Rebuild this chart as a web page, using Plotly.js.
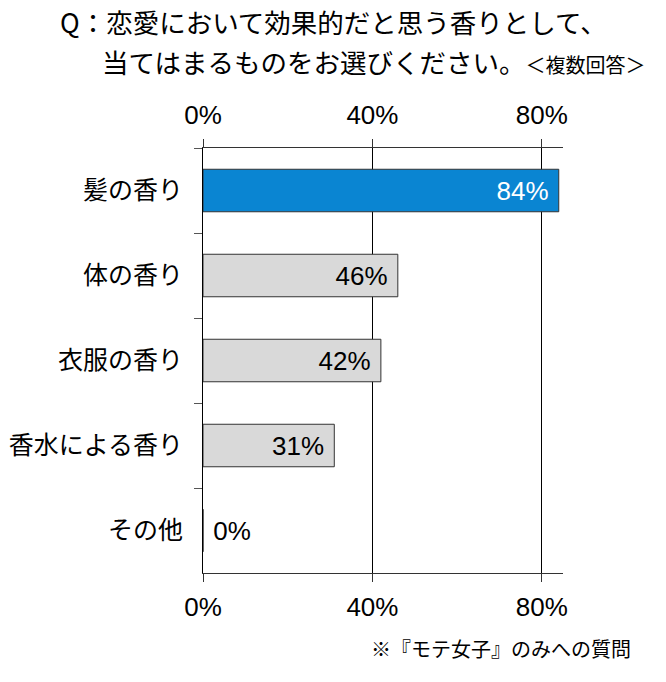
<!DOCTYPE html>
<html>
<head>
<meta charset="utf-8">
<script src="https://cdn.plot.ly/plotly-3.0.1.min.js"></script>
<style>
  body { margin: 0; background: #fff; }
  #chart { width: 666px; height: 682px; }
</style>
</head>
<body>
<div id="chart"></div>
<script>
const categories = ["髪の香り", "体の香り", "衣服の香り", "香水による香り", "その他"];
const values = [84, 46, 42, 31, 0];
const labels = ["84%", "46%", "42%", "31%", "0%"];
const tickVals = [0, 40, 80];
const tickText = ["0%", "40%", "80%"];

const jp = "Noto Sans CJK JP, sans-serif";
const num = "Liberation Sans, Arial, sans-serif";

const barColors = values.map((v, i) => (i === 0 ? "#0A85D2" : "#D9D9D9"));
const textColors = values.map((v, i) => (i === 0 ? "#ffffff" : "#000000"));
const textPos = values.map(v => (v > 5 ? "inside" : "outside"));
// a bit of padding: after the label inside the bar, before it outside
const textTpl = values.map(v => (v > 5 ? "%{text}\u00a0" : "\u00a0%{text}"));

const traces = [
  {
    type: "bar",
    orientation: "h",
    y: categories,
    x: values,
    text: labels,
    texttemplate: textTpl,
    textposition: textPos,
    insidetextanchor: "end",
    constraintext: "none",
    cliponaxis: false,
    textfont: { family: num, size: 26, color: textColors },
    marker: { color: barColors, line: { color: "#333333", width: 1 } },
    width: 0.5,
    hoverinfo: "skip",
  },
  // empty trace so the top axis gets drawn
  { type: "scatter", x: [], y: [], xaxis: "x2", hoverinfo: "skip", showlegend: false },
];

const axisCommon = {
  range: [0, 85],
  tickvals: tickVals,
  ticktext: tickText,
  ticks: "outside",
  ticklen: 8,
  tickcolor: "#333333",
  showline: true,
  linecolor: "#333333",
  linewidth: 1,
  tickfont: { family: num, size: 26, color: "#000" },
  zeroline: false,
  fixedrange: true,
};

const layout = {
  width: 666,
  height: 682,
  margin: { l: 203, r: 103, t: 148, b: 109 },
  paper_bgcolor: "#ffffff",
  plot_bgcolor: "#ffffff",
  showlegend: false,
  bargap: 0.5,
  xaxis: Object.assign({}, axisCommon, {
    side: "bottom",
    showgrid: true,
    gridcolor: "#000000",
    gridwidth: 1,
    ticklabelstandoff: 3,
  }),
  xaxis2: Object.assign({}, axisCommon, {
    side: "top",
    overlaying: "x",
    showgrid: false,
    ticklabelstandoff: 5,
  }),
  yaxis: {
    type: "category",
    autorange: "reversed",
    ticks: "outside",
    tickson: "boundaries",
    ticklen: 8,
    tickcolor: "#555555",
    showline: true,
    linecolor: "#000000",
    linewidth: 1,
    showgrid: false,
    tickfont: { family: jp, size: 25, color: "#000" },
    ticklabelstandoff: 14,
    fixedrange: true,
  },
  annotations: [
    {
      xref: "paper", yref: "paper",
      x: -0.403, y: 1.2965,
      xanchor: "left", yanchor: "middle",
      text: "Q：恋愛において効果的だと思う香りとして、",
      showarrow: false,
      font: { family: jp, size: 26.5, color: "#000" },
    },
    {
      xref: "paper", yref: "paper",
      x: -0.286, y: 1.2024,
      xanchor: "left", yanchor: "middle",
      text: "当てはまるものをお選びください。<span style='font-size:20px'>＜複数回答＞</span>",
      showarrow: false,
      font: { family: jp, size: 26.5, color: "#000" },
    },
    {
      xref: "paper", yref: "paper",
      x: 1.194, y: -0.1765,
      xanchor: "right", yanchor: "middle",
      text: "※『モテ女子』のみへの質問",
      showarrow: false,
      font: { family: jp, size: 20, color: "#000" },
    },
  ],
};

Plotly.newPlot("chart", traces, layout, { staticPlot: true });
</script>
</body>
</html>
